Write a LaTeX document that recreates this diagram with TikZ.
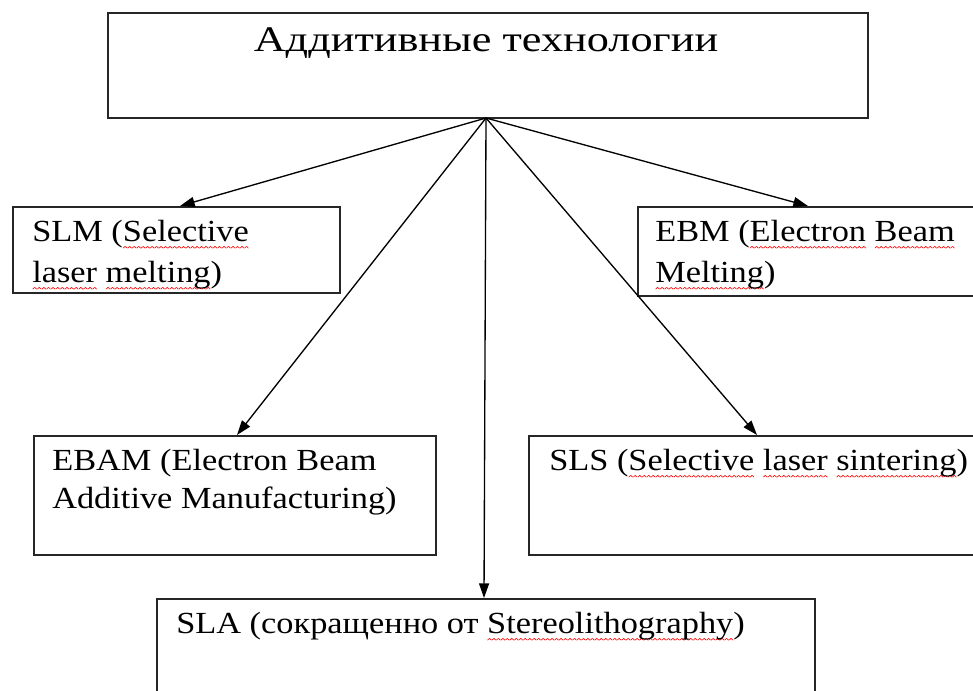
\documentclass[tikz,border=0pt]{standalone}
\usepackage{fontspec}
\setmainfont{Liberation Serif}
\usetikzlibrary{arrows.meta}
\newcommand\wavepiece{\hbox{\rotatebox{45}{\rule{1.9pt}{0.45pt}}\kern-0.35pt\raisebox{1.3pt}{\rotatebox{-45}{\rule{1.9pt}{0.45pt}}}}}
\newcommand\rwave[1]{\setbox0\hbox{#1}\rlap{\lower5.5pt\hbox to\wd0{\color{red}\xleaders\wavepiece\hfill}}#1}
\newcommand\wide[1]{\scalebox{1.12}[1]{#1}}
\tikzset{
  box/.style={draw=black!85, line width=1.2pt, anchor=north west, inner sep=0pt},
  lbl/.style={anchor=base west, inner sep=0pt, font=\fontsize{23}{30}\selectfont},
  conn/.style={line width=1pt, -{Triangle[length=11pt,width=7.5pt]}},
}
\begin{document}
\begin{tikzpicture}[x=0.75pt,y=-0.75pt]
\useasboundingbox (0,0) rectangle (973,690);
\begin{scope}
\clip (0,0) rectangle (973,690);
% boxes
\node[box, minimum width=760*0.75pt, minimum height=105*0.75pt] (top) at (107,12) {};
\node[box, minimum width=327*0.75pt, minimum height=86*0.75pt] (slm) at (12,206) {};
\node[box, minimum width=360*0.75pt, minimum height=89*0.75pt] (ebm) at (637,206) {};
\node[box, minimum width=402*0.75pt, minimum height=119*0.75pt] (ebam) at (33,435) {};
\node[box, minimum width=470*0.75pt, minimum height=119*0.75pt] (sls) at (528,435) {};
\node[box, minimum width=658*0.75pt, minimum height=120*0.75pt] (sla) at (156,598) {};
% texts
\node[anchor=base, inner sep=0pt, font=\fontsize{27}{32}\selectfont] (ttl) at (486,51) {\scalebox{1.23}[1]{Аддитивные технологии}};
\node[lbl] (tslma) at (32,241) {\wide{SLM (\rwave{Selective}}};
\node[lbl] (tslmb) at (32,282) {\wide{\rwave{laser} \rwave{melting})}};
\node[lbl] (tebma) at (655,241) {\wide{EBM (\rwave{Electron} \rwave{Beam}}};
\node[lbl] (tebmb) at (655,282) {\wide{\rwave{Melting})}};
\node[lbl] (tebama) at (52,470) {\wide{EBAM (Electron Beam}};
\node[lbl] (tebamb) at (52,508) {\wide{Additive Manufacturing)}};
\node[lbl] (tsls) at (549,470) {\wide{SLS (\rwave{Selective} \rwave{laser} \rwave{sintering})}};
\node[lbl] (tsla) at (176,633) {\wide{SLA (сокращенно от \rwave{Stereolithography})}};
% connector end points
\coordinate (apex) at (486,118);
\coordinate (inslm) at (180,206);
\coordinate (inebm) at (808,206);
\coordinate (inebam) at (237,435);
\coordinate (insls) at (757,435);
\coordinate (insla) at (484,598);
\draw[conn] (apex) -- (inslm);
\draw[conn] (apex) -- (inebm);
\draw[conn] (apex) -- (inebam);
\draw[conn] (apex) -- (insls);
\draw[conn] (apex) -- (insla);
\end{scope}
\end{tikzpicture}
\end{document}
